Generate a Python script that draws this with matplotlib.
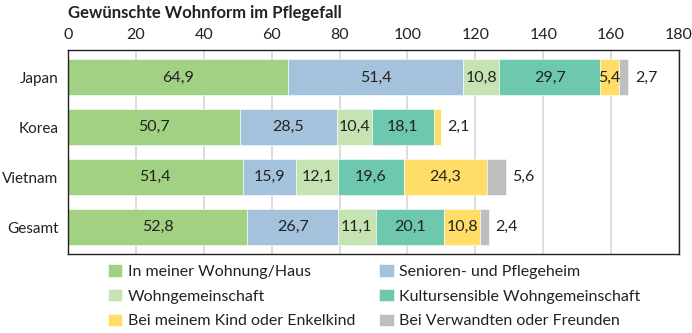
import numpy as np
import matplotlib
matplotlib.use('Agg')
import matplotlib.pyplot as plt

# Gewünschte Wohnform im Pflegefall - stacked horizontal bars
countries = ['Japan', 'Korea', 'Vietnam', 'Gesamt']
wohnung = [64.9, 50.7, 51.4, 52.8]
heim = [51.4, 28.5, 15.9, 26.7]
wg = [10.8, 10.4, 12.1, 11.1]
kultur_wg = [29.7, 18.1, 19.6, 20.1]
kind = [5.4, 2.1, 24.3, 10.8]
verwandte = [2.7, 0.0, 5.6, 2.4]

series_names = ['In meiner Wohnung/Haus', 'Senioren- und Pflegeheim', 'Wohngemeinschaft',
                'Kultursensible Wohngemeinschaft', 'Bei meinem Kind oder Enkelkind',
                'Bei Verwandten oder Freunden']
colors = ['#a3d184', '#a4c2dc', '#c6e3b4', '#6dc8ae', '#ffdd66', '#bebebe']

plt.rcParams['font.family'] = ['Lato', 'DejaVu Sans']
text_col = '#222222'
fs = 11.5

fig = plt.figure(figsize=(6.92, 3.33), dpi=100)
ax = fig.add_axes([0.0983, 0.2372, 0.883, 0.6126])

data = np.array([wohnung, heim, wg, kultur_wg, kind, verwandte])
y = np.arange(len(countries))
left = np.zeros(len(countries))
handles = []
for i in range(data.shape[0]):
    b = ax.barh(y, data[i], left=left, height=0.72, color=colors[i],
                edgecolor='white', linewidth=0.4, label=series_names[i], zorder=2)
    handles.append(b)
    left = left + data[i]

# value labels: last non-zero segment goes outside the bar
for j in range(len(countries)):
    col = data[:, j]
    last = max(k for k in range(len(col)) if col[k] > 0)
    start = 0
    for k in range(len(col)):
        v = col[k]
        if v > 0:
            txt = f'{v:.1f}'.replace('.', ',')
            if k == last:
                ax.annotate(txt, (start + v, y[j]), xytext=(5, 0), textcoords='offset points',
                            ha='left', va='center', fontsize=fs, color=text_col)
            else:
                ax.text(start + v / 2, y[j], txt, ha='center', va='center',
                        fontsize=fs, color=text_col, zorder=3)
        start += v

ax.set_xlim(0, 180)
ax.set_ylim(3.54, -0.55)
ax.set_xticks(np.arange(0, 181, 20))
ax.xaxis.tick_top()
ax.tick_params(axis='x', length=0, pad=6, labelsize=fs, colors=text_col)
ax.set_yticks(y)
ax.set_yticklabels(countries)
ax.tick_params(axis='y', length=0, pad=7, labelsize=11, colors=text_col)
ax.grid(axis='x', color='#d6d6d6', linewidth=1.2, zorder=0)
ax.set_axisbelow(True)
for s in ax.spines.values():
    s.set_color('#222222')
    s.set_linewidth(1.0)

fig.text(0.0983, 0.985, 'Gewünschte Wohnform im Pflegefall', ha='left', va='top',
         fontsize=12, fontweight='bold', color=text_col)

order = [0, 2, 4, 1, 3, 5]
leg = fig.legend([handles[i] for i in order], [series_names[i] for i in order],
                 ncol=2, loc='upper left', bbox_to_anchor=(0.156, 0.206),
                 frameon=False, fontsize=fs, handlelength=0.9, handleheight=0.8,
                 handletextpad=0.35, columnspacing=1.5, labelspacing=0.62,
                 borderpad=0, borderaxespad=0)
for t in leg.get_texts():
    t.set_color(text_col)

plt.savefig('out.png', dpi=100)
plt.close()
